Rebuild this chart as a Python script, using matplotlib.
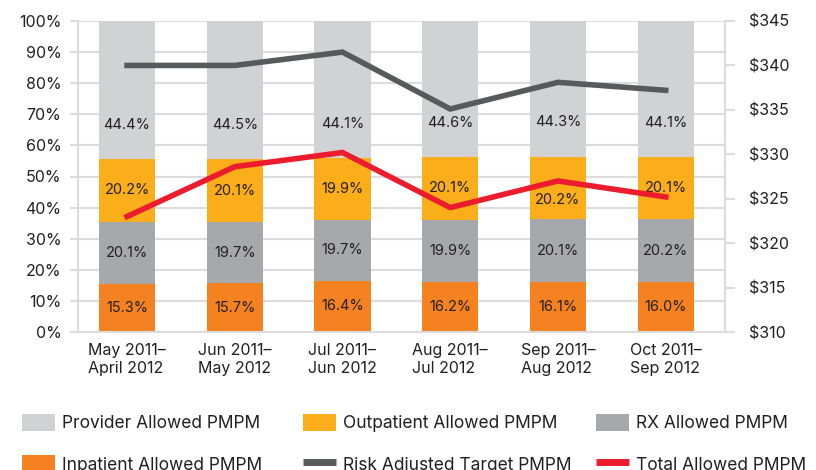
import numpy as np
import matplotlib.pyplot as plt
from matplotlib.patches import Patch
from matplotlib.lines import Line2D

plt.rcParams["font.family"] = ["Inter", "DejaVu Sans"]

# ---- data -------------------------------------------------
periods = [
    "May 2011–\nApril 2012",
    "Jun 2011–\nMay 2012",
    "Jul 2011–\nJun 2012",
    "Aug 2011–\nJul 2012",
    "Sep 2011–\nAug 2012",
    "Oct 2011–\nSep 2012",
]
inpatient  = [15.3, 15.7, 16.4, 16.2, 16.1, 16.0]
rx         = [20.1, 19.7, 19.7, 19.9, 20.1, 20.2]
outpatient = [20.2, 20.1, 19.9, 20.1, 20.2, 20.1]
provider   = [44.4, 44.5, 44.1, 44.6, 44.3, 44.1]

risk_target = [340.0, 340.0, 341.5, 335.1, 338.1, 337.2]
total_pmpm  = [323.0, 328.6, 330.2, 324.0, 327.0, 325.2]

pct_ticks = list(range(0, 101, 10))
usd_ticks = list(range(310, 346, 5))

# ---- style ------------------------------------------------
C_PROVIDER = "#D1D2D4"
C_OUTPAT = "#FBAE1A"
C_RX = "#A7A8AB"
C_INPAT = "#F58221"
C_RISK = "#58595B"
C_TOTAL = "#EC1C2E"
C_GRID = "#DCDCDC"
C_TEXT = "#231F20"

# one label was moved down by hand in the original to clear the red line
label_nudge = {("Outpatient Allowed PMPM", 4): -3.8}

fig = plt.figure(figsize=(8.16, 4.70), dpi=100)
ax = fig.add_axes([78 / 816, 1 - 332 / 470, (725 - 78) / 816, (332 - 21) / 470])

x = np.arange(len(periods))
width = 0.52
series = [
    (inpatient, C_INPAT, "Inpatient Allowed PMPM"),
    (rx, C_RX, "RX Allowed PMPM"),
    (outpatient, C_OUTPAT, "Outpatient Allowed PMPM"),
    (provider, C_PROVIDER, "Provider Allowed PMPM"),
]

bottom = np.zeros(len(periods))
for vals, color, name in series:
    vals = np.array(vals)
    ax.bar(x, vals, width, bottom=bottom, color=color, zorder=2, label=name)
    # provider label sits low in its segment, the others centred
    frac = 0.25 if name.startswith("Provider") else 0.5
    for i, (xi, b, v) in enumerate(zip(x, bottom, vals)):
        y = b + v * frac + label_nudge.get((name, i), 0)
        ax.text(xi, y, f"{v:.1f}%", ha="center", va="center",
                fontsize=10.5, color=C_TEXT, zorder=6)
    bottom += vals

ax.set_xlim(-0.455, len(periods) - 0.45)
ax.set_ylim(0, 100)
ax.set_yticks(pct_ticks)
ax.set_yticklabels([f"{t}%" for t in pct_ticks])
ax.set_xticks(x)
ax.set_xticklabels(periods, multialignment="left")
ax.grid(axis="y", color=C_GRID, linewidth=1.5, zorder=0)
ax.tick_params(axis="y", length=6, width=1.5, color=C_GRID, labelsize=11.5,
               labelcolor=C_TEXT, pad=6)
ax.tick_params(axis="x", length=0, labelsize=11.5, labelcolor=C_TEXT, pad=8)
for side in ["top", "right"]:
    ax.spines[side].set_visible(False)
for side in ["left", "bottom"]:
    ax.spines[side].set_color(C_GRID)
    ax.spines[side].set_linewidth(1.5)

ax2 = ax.twinx()
ax2.plot(x, risk_target, color=C_RISK, linewidth=4, zorder=5,
         solid_joinstyle="miter")
ax2.plot(x, total_pmpm, color=C_TOTAL, linewidth=4, zorder=5,
         solid_joinstyle="miter")
ax2.set_ylim(310, 345)
ax2.set_yticks(usd_ticks)
ax2.set_yticklabels([f"${t}" for t in usd_ticks])
ax2.tick_params(axis="y", length=7, width=1.5, color=C_GRID, labelsize=11.5,
                labelcolor=C_TEXT, pad=10)
for side in ["top", "left", "bottom"]:
    ax2.spines[side].set_visible(False)
ax2.spines["right"].set_color(C_GRID)
ax2.spines["right"].set_linewidth(1.5)

# ---- legend: three columns, two rows ----------------------
def sq(c):
    return Patch(facecolor=c, edgecolor="none")

def ln(c):
    return Line2D([0], [0], color=c, linewidth=5, solid_capstyle="butt")

columns = [
    ([sq(C_PROVIDER), sq(C_INPAT)], ["Provider Allowed PMPM", "Inpatient Allowed PMPM"], 22),
    ([sq(C_OUTPAT), ln(C_RISK)], ["Outpatient Allowed PMPM", "Risk Adjusted Target PMPM"], 303),
    ([sq(C_RX), ln(C_TOTAL)], ["RX Allowed PMPM", "Total Allowed PMPM"], 596),
]
for handles, labels, px in columns:
    fig.legend(handles, labels, loc="upper left",
               bbox_to_anchor=(px / 816, 1 - 414 / 470),
               frameon=False, fontsize=12.5, borderpad=0, borderaxespad=0,
               handlelength=1.9, handleheight=1.15, handletextpad=0.4,
               labelspacing=1.3, labelcolor=C_TEXT)

fig.savefig("out.png", dpi=100)
